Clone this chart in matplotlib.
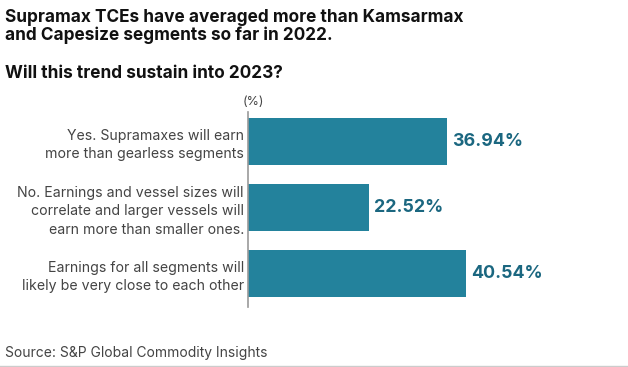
import matplotlib.pyplot as plt

answers = [
    "Yes. Supramaxes will earn\nmore than gearless segments",
    "No. Earnings and vessel sizes will\ncorrelate and larger vessels will\nearn more than smaller ones.",
    "Earnings for all segments will\nlikely be very close to each other",
]
shares = [36.94, 22.52, 40.54]

title = ("Supramax TCEs have averaged more than Kamsarmax\n"
         "and Capesize segments so far in 2022.")
subtitle = "Will this trend sustain into 2023?"
source = "Source: S&P Global Commodity Insights"

bar_color = "#23829c"
value_color = "#1b6780"
text_color = "#444444"

plt.rcParams['font.family'] = ['Inter', 'DejaVu Sans']

fig = plt.figure(figsize=(6.28, 3.67), dpi=100)
ax = fig.add_axes([0.395, 0.1635, 0.6, 0.5315])

ypos = list(range(len(shares)))
ax.barh(ypos, shares, height=0.71, color=bar_color)
for y, v in zip(ypos, shares):
    ax.text(v + 0.9, y, f"{v:.2f}%", va="center", ha="left",
            fontsize=12.8, fontweight="bold", color=value_color)

ax.set_xlim(0, 70)
ax.set_ylim(2.51, -0.45)
ax.set_yticks(ypos)
ax.set_yticklabels(answers, fontsize=10.2, color=text_color,
                   linespacing=1.4)
ax.tick_params(axis="y", length=0, pad=3)
for lbl in ax.get_yticklabels():
    lbl.set_verticalalignment("center_baseline")
ax.set_xticks([])
for s in ["top", "right", "bottom"]:
    ax.spines[s].set_visible(False)
ax.spines["left"].set_color("#999999")
ax.spines["left"].set_linewidth(1.2)

ax.text(-0.015, 1.02, "(%)", transform=ax.transAxes, fontsize=9,
        color=text_color, ha="left", va="bottom")

fig.text(0.008, 0.975, title, fontsize=12.4, fontweight="bold", color="#111111",
         va="top", ha="left", linespacing=1.05)
fig.text(0.008, 0.822, subtitle, fontsize=12.4, fontweight="bold", color="#111111",
         va="top", ha="left")
fig.text(0.008, 0.018, source, fontsize=10, color=text_color,
         va="bottom", ha="left")
fig.add_artist(plt.Line2D([0, 1], [0.003, 0.003], transform=fig.transFigure,
                          color="#cccccc", linewidth=1))

fig.savefig("out.png", dpi=100)
